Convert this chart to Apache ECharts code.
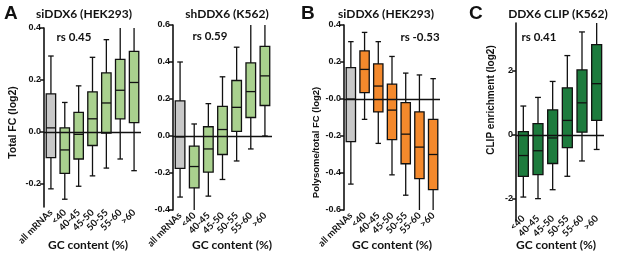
<!DOCTYPE html>
<html><head><meta charset="utf-8">
<script src="https://cdn.jsdelivr.net/npm/echarts@6/dist/echarts.min.js"></script>
<style>html,body{margin:0;padding:0;background:#fff}#c{width:617px;height:258px}</style>
</head><body><div id="c"></div>
<script>
// ---------- data ----------
const catsAll = ['all mRNAs', '<40', '40-45', '45-50', '50-55', '55-60', '>60'];
const catsGC = ['<40', '40-45', '45-50', '50-55', '55-60', '>60'];

// Panel A: siDDX6 (HEK293), Total FC (log2)
const aLow = [-0.22, -0.26, -0.21, -0.17, -0.14, -0.105, -0.15];
const aQ1  = [-0.10, -0.16, -0.105, -0.053, -0.005, 0.05, 0.035];
const aMed = [0.015, -0.07, -0.01, 0.05, 0.111, 0.16, 0.19];
const aQ3  = [0.146, 0.015, 0.075, 0.154, 0.227, 0.279, 0.31];
const aHigh = [0.292, 0.113, 0.177, 0.287, 0.355, 0.46, 0.5];

// Panel A2: shDDX6 (K562), Total FC (log2)
const a2Low = [-0.33, -0.41, -0.325, -0.235, -0.135, -0.07, 0.0];
const a2Q1  = [-0.175, -0.28, -0.195, -0.10, 0.025, 0.10, 0.165];
const a2Med = [-0.005, -0.165, -0.07, 0.035, 0.155, 0.24, 0.325];
const a2Q3  = [0.19, -0.055, 0.05, 0.16, 0.30, 0.395, 0.485];
const a2High = [0.40, 0.065, 0.175, 0.32, 0.48, 0.68, 0.70];

// Panel B: siDDX6 (HEK293), Polysome/total FC (log2)
const bLow = [-0.46, -0.11, -0.24, -0.41, -0.52, -0.70, -0.72];
const bQ1  = [-0.23, 0.035, -0.07, -0.22, -0.35, -0.43, -0.49];
const bMed = [0.0, 0.16, 0.07, -0.06, -0.19, -0.26, -0.30];
const bQ3  = [0.17, 0.26, 0.19, 0.08, -0.02, -0.07, -0.11];
const bHigh = [0.31, 0.36, 0.31, 0.23, 0.14, 0.13, 0.11];

// Panel C: DDX6 CLIP (K562), CLIP enrichment (log2)
const cLow = [-1.95, -2.0, -1.72, -1.3, -0.82, -0.46];
const cQ1  = [-1.3, -1.25, -0.9, -0.4, 0.08, 0.45];
const cMed = [-0.65, -0.5, -0.1, 0.45, 1.0, 1.6];
const cQ3  = [0.1, 0.35, 0.78, 1.47, 2.03, 2.82];
const cHigh = [0.9, 1.17, 1.67, 2.48, 3.22, 3.9];

// tick labels
const aTicks = [-0.2, 0, 0.2, 0.4];
const a2Ticks = [-0.4, -0.2, 0, 0.2, 0.4, 0.6];
const bTicks = [-0.6, -0.4, -0.2, 0, 0.2, 0.4];
const cTicks = [-2, 0, 2];

// ---------- styling ----------
const GRAY = '#c8c8c8', LGREEN = '#a9d18e', ORANGE = '#f4892c', DGREEN = '#1d7b3d';
const BOLD_SANS = 'Liberation Sans';
const CAL = 'Lato';
const INK = '#111111';
const LW = 1.3;

function rows(low, q1, med, q3, high) {
  return low.map((v, i) => [i, low[i], q1[i], med[i], q3[i], high[i]]);
}

function boxRender(colors) {
  return function (params, api) {
    const i = api.value(0);
    const cx = api.coord([i, 0])[0];
    const yl = api.coord([i, api.value(1)])[1];
    const y1 = api.coord([i, api.value(2)])[1];
    const ym = api.coord([i, api.value(3)])[1];
    const y3 = api.coord([i, api.value(4)])[1];
    const yh = api.coord([i, api.value(5)])[1];
    const unit = api.size([1, 0])[0];
    const hw = unit * 0.34, cw = unit * 0.2;
    const ls = { stroke: INK, lineWidth: LW };
    return {
      type: 'group',
      children: [
        { type: 'line', shape: { x1: cx, y1: yl, x2: cx, y2: yh }, style: ls },
        { type: 'line', shape: { x1: cx - cw, y1: yl, x2: cx + cw, y2: yl }, style: ls },
        { type: 'line', shape: { x1: cx - cw, y1: yh, x2: cx + cw, y2: yh }, style: ls },
        { type: 'rect', shape: { x: cx - hw, y: y3, width: 2 * hw, height: y1 - y3 },
          style: { fill: colors[i], stroke: INK, lineWidth: LW } },
        { type: 'line', shape: { x1: cx - hw, y1: ym, x2: cx + hw, y2: ym }, style: ls }
      ]
    };
  };
}

function fmt1(v) { return (Math.abs(v) < 1e-9 ? 0 : v).toFixed(1); }

const panels = [
  { grid: { left: 44, width: 97, top: 28, height: 179 }, y: [-0.29, 0.4],
    ticks: aTicks, fmt: fmt1, cats: catsAll, data: rows(aLow, aQ1, aMed, aQ3, aHigh), xOff: 0,
    colors: [GRAY].concat(Array(6).fill(LGREEN)), yName: 'Total FC (log2)', nameGap: 25, nameSize: 10.5, namePad: [0, 10, 0, 0] },
  { grid: { left: 173, width: 99, top: 25, height: 185 }, y: [-0.4, 0.6],
    ticks: a2Ticks, fmt: fmt1, cats: catsAll, data: rows(a2Low, a2Q1, a2Med, a2Q3, a2High), xOff: 0,
    colors: [GRAY].concat(Array(6).fill(LGREEN)), yName: '', nameGap: 25, nameSize: 10, namePad: [0, 0, 0, 0] },
  { grid: { left: 344, width: 96, top: 25, height: 185 }, y: [-0.6, 0.4],
    ticks: bTicks, fmt: v => (Math.abs(v) < 1e-9 ? '-0.0' : v.toFixed(1)), cats: catsAll,
    data: rows(bLow, bQ1, bMed, bQ3, bHigh), xOff: 0,
    colors: [GRAY].concat(Array(6).fill(ORANGE)), yName: 'Polysome/total FC (log2)', nameGap: 22, nameSize: 9.5, namePad: [0, 50, 0, 0] },
  { grid: { left: 516, width: 88, top: 23, height: 198 }, y: [-2.7, 3.5],
    ticks: cTicks, fmt: v => String(v), cats: catsGC, data: rows(cLow, cQ1, cMed, cQ3, cHigh), xOff: -8,
    colors: Array(6).fill(DGREEN), yName: 'CLIP enrichment (log2)', nameGap: 20, nameSize: 10, namePad: [0, 0, 0, 44] }
];

const grids = [], xAxes = [], yAxes = [], series = [];
panels.forEach((p, k) => {
  grids.push(p.grid);
  xAxes.push({
    type: 'category', gridIndex: k, data: p.cats, offset: p.xOff,
    axisLine: { show: false }, axisTick: { show: false }, splitLine: { show: false },
    axisLabel: { interval: 0, rotate: 45, margin: 4, fontFamily: CAL, fontWeight: 'bold',
      fontSize: 9.5, color: INK }
  });
  const y = {
    type: 'value', gridIndex: k, min: p.y[0], max: p.y[1], position: 'left',
    axisLine: { show: true, onZero: false, lineStyle: { color: INK, width: 1.6 } },
    axisTick: { show: true, length: 4, customValues: p.ticks, lineStyle: { color: INK, width: 1.5 } },
    axisLabel: { customValues: p.ticks, formatter: p.fmt, margin: 3, fontFamily: BOLD_SANS,
      fontWeight: 'bold', fontSize: 9, color: INK },
    splitLine: { show: false }
  };
  if (p.yName) {
    y.name = p.yName; y.nameLocation = 'middle'; y.nameGap = p.nameGap; y.nameRotate = 90;
    y.nameTextStyle = { fontFamily: BOLD_SANS, fontWeight: 'bold', fontSize: p.nameSize, color: INK, padding: p.namePad };
  }
  yAxes.push(y);
  series.push({
    type: 'custom', xAxisIndex: k, yAxisIndex: k, clip: true,
    renderItem: boxRender(p.colors), data: p.data,
    markLine: { symbol: ['none', 'none'], label: { show: false },
      lineStyle: { color: INK, width: LW, type: 'solid' }, data: [{ yAxis: 0 }] }
  });
});

function txt(x, y, text, size, family, align) {
  return { type: 'text', x: x, y: y, silent: true,
    style: { text: text, font: 'bold ' + size + 'px "' + family + '"', fill: INK,
      align: align || 'center', verticalAlign: 'middle' } };
}

const graphics = [
  txt(4, 14, 'A', 19, BOLD_SANS, 'left'),
  txt(84, 14, 'siDDX6 (HEK293)', 12, CAL),
  txt(74, 37, 'rs 0.45', 11.5, CAL),
  txt(88, 245, 'GC content (%)', 12, CAL),
  txt(227, 14, 'shDDX6 (K562)', 12, CAL),
  txt(210, 36, 'rs 0.59', 11.5, CAL),
  txt(232, 245, 'GC content (%)', 12, CAL),
  txt(301, 14, 'B', 19, BOLD_SANS, 'left'),
  txt(386, 14, 'siDDX6 (HEK293)', 12, CAL),
  txt(420, 37, 'rs -0.53', 11.5, CAL),
  txt(392, 245, 'GC content (%)', 12, CAL),
  txt(469, 14, 'C', 19, BOLD_SANS, 'left'),
  txt(558, 14, 'DDX6 CLIP (K562)', 12, CAL),
  txt(539, 37, 'rs 0.41', 11.5, CAL),
  txt(556, 245, 'GC content (%)', 12, CAL)
];

const chart = echarts.init(document.getElementById('c'));
chart.setOption({
  animation: false,
  grid: grids, xAxis: xAxes, yAxis: yAxes, series: series, graphic: graphics
});
</script>
</body></html>
